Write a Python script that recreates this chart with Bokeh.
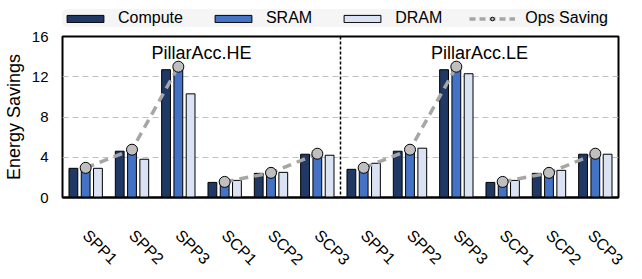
import math
from bokeh.plotting import figure
from bokeh.layouts import column
from bokeh.models import (ColumnDataSource, FixedTicker, Legend, LegendItem, Span, Range1d)
from bokeh.core.properties import value
from bokeh.embed import file_html
from bokeh.resources import INLINE

categories = ["SPP1", "SPP2", "SPP3", "SCP1", "SCP2", "SCP3",
              "SPP1", "SPP2", "SPP3", "SCP1", "SCP2", "SCP3"]
compute = [2.9, 4.6, 12.7, 1.5, 2.4, 4.3, 2.8, 4.6, 12.7, 1.5, 2.4, 4.3]
sram = [2.8, 4.7, 13.1, 1.5, 2.4, 4.3, 2.9, 4.7, 13.0, 1.5, 2.4, 4.3]
dram = [2.9, 3.8, 10.3, 1.7, 2.5, 4.2, 3.4, 4.9, 12.3, 1.7, 2.7, 4.3]
ops_saving = [2.95, 4.75, 13.0, 1.55, 2.45, 4.35, 2.95, 4.75, 13.0, 1.55, 2.45, 4.35]
series_names = ["Compute", "SRAM", "DRAM", "Ops Saving"]
panel_titles = ["PillarAcc.HE", "PillarAcc.LE"]
y_ticks = [0, 4, 8, 12, 16]

C_COMPUTE = "#1f3864"
C_SRAM = "#4472c4"
C_DRAM = "#dae3f3"
C_LINE = "#a6a6a6"
C_MARK = "#bfbfbf"
FONT = "Liberation Sans"

n = len(categories)
centers = [i + 0.5 for i in range(n)]
off = 0.265
bw = 0.19

src = ColumnDataSource(dict(
    xc=[c - off for c in centers], xs=centers, xd=[c + off for c in centers],
    compute=compute, sram=sram, dram=dram, ops=ops_saving))

bar_styles = [("xc", "compute", C_COMPUTE), ("xs", "sram", C_SRAM), ("xd", "dram", C_DRAM)]

# ---------------- main chart ----------------
p = figure(width=626, height=250, output_backend="svg", toolbar_location=None,
           x_range=Range1d(0, n), y_range=Range1d(0, 16),
           min_border_left=55, min_border_right=8, min_border_top=9, min_border_bottom=0)

for xcol, ycol, col in bar_styles:
    p.vbar(x=xcol, top=ycol, width=bw, source=src, fill_color=col, line_color="black", line_width=1)

for g in range(4):
    sl = slice(g * 3, g * 3 + 3)
    p.line(centers[sl], ops_saving[sl], line_color=C_LINE, line_width=3.5, line_dash="9 6")
p.scatter("xs", "ops", source=src, size=11, fill_color=C_MARK, line_color="black", line_width=1)

p.add_layout(Span(location=n / 2, dimension="height", line_color="black", line_width=1.5, line_dash="3 2"))

for k, t in enumerate(panel_titles):
    p.text(x=[n / 4 + k * n / 2], y=[14.4], text=[t], text_align="center", text_baseline="middle",
           text_font=value(FONT), text_font_size="18px", text_color="black")

p.xaxis.ticker = FixedTicker(ticks=centers)
p.xaxis.major_label_overrides = {c: lab for c, lab in zip(centers, categories)}
p.xaxis.major_label_orientation = -math.pi / 4
p.xaxis.major_label_text_font = FONT
p.xaxis.major_label_text_font_size = "16px"
p.xaxis.major_label_text_color = "black"
p.xaxis.major_tick_line_color = None
p.xaxis.minor_tick_line_color = None
p.xaxis.axis_line_color = "black"
p.xaxis.axis_line_width = 2
p.xaxis.major_label_standoff = 29

p.yaxis.ticker = FixedTicker(ticks=y_ticks)
p.yaxis.axis_label = "Energy Savings"
p.yaxis.axis_label_text_font = FONT
p.yaxis.axis_label_text_font_size = "18px"
p.yaxis.axis_label_text_font_style = "normal"
p.yaxis.axis_label_text_color = "black"
p.yaxis.major_label_text_font = FONT
p.yaxis.major_label_text_font_size = "15px"
p.yaxis.major_label_text_color = "black"
p.yaxis.major_tick_line_color = None
p.yaxis.minor_tick_line_color = None
p.yaxis.axis_line_color = None
p.yaxis.major_label_standoff = 8

p.xgrid.grid_line_color = None
p.ygrid.grid_line_color = "#bfbfbf"
p.ygrid.grid_line_dash = "6 4"
p.ygrid.grid_line_width = 1

p.outline_line_color = "black"
p.outline_line_width = 2
p.background_fill_color = "white"

# ---------------- legend strip (same data, view range kept off the data) ----------------
lg = figure(width=626, height=27, output_backend="svg", toolbar_location=None,
            x_range=Range1d(100, 101), y_range=Range1d(100, 101),
            x_axis_location=None, y_axis_location=None,
            min_border_left=55, min_border_right=8, min_border_top=0, min_border_bottom=0)
lg.outline_line_color = None
lg.grid.visible = False

leg_r = []
for xcol, ycol, col in bar_styles:
    leg_r.append(lg.vbar(x=xcol, top=ycol, width=bw, source=src, fill_color=col,
                         line_color="black", line_width=1))
l4 = lg.line(x="xs", y="ops", source=src, line_color=C_LINE, line_width=3.5, line_dash="6 4")
l5 = lg.scatter(x="xs", y="ops", source=src, size=9, fill_color=C_MARK, line_color="black", line_width=1)

legend = Legend(items=[
    LegendItem(label=series_names[0], renderers=[leg_r[0]], index=0),
    LegendItem(label=series_names[1], renderers=[leg_r[1]], index=0),
    LegendItem(label=series_names[2], renderers=[leg_r[2]], index=0),
    LegendItem(label=series_names[3], renderers=[l4, l5], index=0),
], orientation="horizontal", location=(0, 0))
legend.label_text_font = FONT
legend.label_text_font_size = "16px"
legend.label_text_color = "black"
legend.glyph_width = 46
legend.glyph_height = 9
legend.label_standoff = 10
legend.spacing = 27
legend.padding = 4
legend.margin = 0
legend.background_fill_color = "#f5f5f5"
legend.background_fill_alpha = 1
legend.border_line_color = None
legend.border_radius = 5
lg.add_layout(legend, "center")

layout = column(lg, p, spacing=0)
open("out.html", "w").write(file_html(layout, INLINE))
